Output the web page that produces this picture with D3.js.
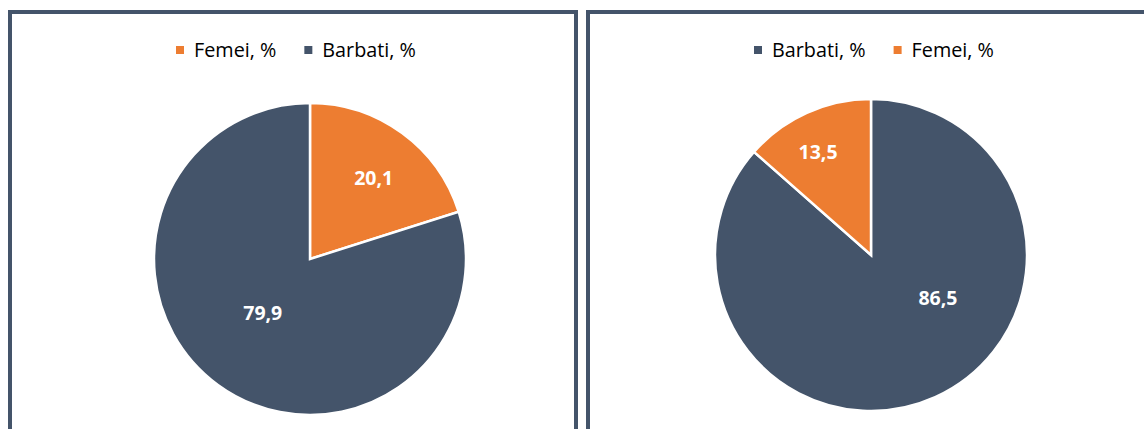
<!DOCTYPE html>
<html>
<head>
<meta charset="utf-8">
<script src="https://cdn.jsdelivr.net/npm/d3@7"></script>
<style>
  html, body { margin: 0; padding: 0; background: #fff; }
  svg { display: block; }
</style>
</head>
<body>
<svg id="chart" width="1144" height="429"></svg>
<script>
// data
const leftCategories = ['Femei, %', 'Barbati, %'];
const leftValues = [20.1, 79.9];
const leftLabels = ['20,1', '79,9'];

const rightCategories = ['Barbati, %', 'Femei, %'];
const rightValues = [86.5, 13.5];
const rightLabels = ['86,5', '13,5'];

const ORANGE = '#ed7d31';
const SLATE = '#44546a';
const BORDER = '#44546a';
const FONT = '"Open Sans", "Noto Sans", sans-serif';

const colorOf = d3.scaleOrdinal()
  .domain(['Femei, %', 'Barbati, %'])
  .range([ORANGE, SLATE]);

const svg = d3.select('#chart');

// panel layout: frame, pie centre/radius, legend start, label placement
const panels = [
  {
    categories: leftCategories, values: leftValues, labels: leftLabels,
    frameX: 10, cx: 310, cy: 259, r: 156, legendX: 176,
    labelPos: [{ r: 0.66, da: 2 }, { r: 0.46, da: 5 }],
  },
  {
    categories: rightCategories, values: rightValues, labels: rightLabels,
    frameX: 588, cx: 871, cy: 255, r: 156, legendX: 754,
    labelPos: [{ r: 0.51, da: -33 }, { r: 0.74, da: -3 }],
  },
];

panels.forEach((p) => {
  const g = svg.append('g');

  g.append('rect')
    .attr('x', p.frameX)
    .attr('y', 12)
    .attr('width', 566)
    .attr('height', 460)
    .attr('fill', '#fff')
    .attr('stroke', BORDER)
    .attr('stroke-width', 4);

  const pie = d3.pie().sort(null).value((d) => d.value);
  const arcs = pie(p.categories.map((c, i) => ({ cat: c, value: p.values[i], label: p.labels[i] })));
  const arc = d3.arc().innerRadius(0).outerRadius(p.r);

  const pieG = g.append('g').attr('transform', `translate(${p.cx},${p.cy})`);

  pieG.selectAll('path')
    .data(arcs)
    .join('path')
    .attr('d', arc)
    .attr('fill', (d) => colorOf(d.data.cat))
    .attr('stroke', '#fff')
    .attr('stroke-width', 2.5)
    .attr('stroke-linejoin', 'miter');

  pieG.selectAll('text')
    .data(arcs)
    .join('text')
    .attr('transform', (d, i) => {
      const lp = p.labelPos[i];
      const a = (d.startAngle + d.endAngle) / 2 + lp.da * Math.PI / 180;
      const rr = lp.r * p.r;
      return `translate(${Math.sin(a) * rr},${-Math.cos(a) * rr})`;
    })
    .attr('text-anchor', 'middle')
    .attr('dy', '0.36em')
    .attr('fill', '#fff')
    .attr('font-family', FONT)
    .attr('font-weight', 'bold')
    .attr('font-size', '19.5px')
    .text((d) => d.data.label);

  // legend
  const legend = g.append('g').attr('transform', `translate(${p.legendX},0)`);
  let x = 0;
  p.categories.forEach((c) => {
    legend.append('rect')
      .attr('x', x)
      .attr('y', 46)
      .attr('width', 8)
      .attr('height', 8)
      .attr('fill', colorOf(c));
    const t = legend.append('text')
      .attr('x', x + 18)
      .attr('y', 57)
      .attr('fill', '#000')
      .attr('font-family', FONT)
      .attr('font-size', '19.8px')
      .text(c);
    x += 18 + t.node().getComputedTextLength() + 28;
  });
});
</script>
</body>
</html>
